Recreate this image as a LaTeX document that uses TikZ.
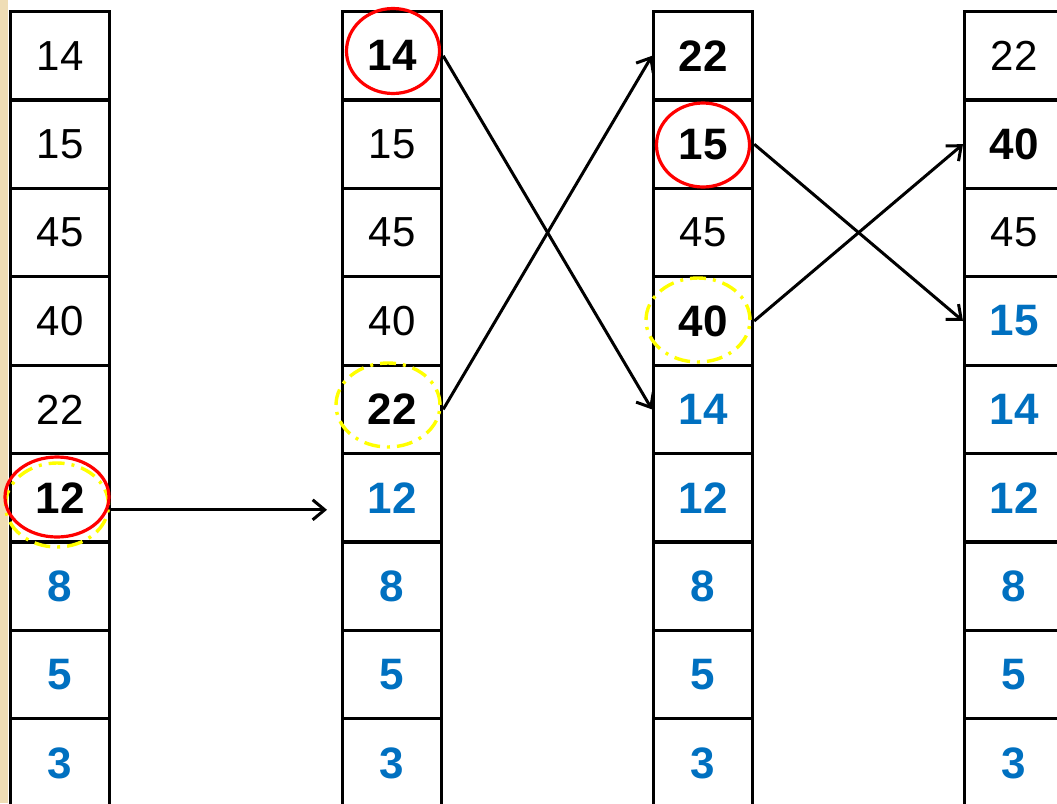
\documentclass[tikz,border=0pt]{standalone}
\usepackage{fontspec}
\setmainfont{Liberation Sans}
\usetikzlibrary{arrows.meta,shapes.geometric}
\definecolor{numblue}{HTML}{0070C0}
\definecolor{beigebg}{HTML}{EFDDB5}
\definecolor{yel}{HTML}{FFFF00}
\begin{document}
\begin{tikzpicture}[x=1pt,y=-1pt,
  cell/.style={draw=black, line width=3.2pt, minimum width=99pt, minimum height=88.4pt,
    inner sep=0pt, anchor=north west, font=\fontsize{42}{42}\selectfont},
  plainnum/.style={text=black},
  boldnum/.style={text=black, font=\fontsize{44}{44}\selectfont\bfseries},
  bluenum/.style={text=numblue, font=\fontsize{44}{44}\selectfont\bfseries},
  redring/.style={draw=red, line width=3.2pt, ellipse, inner sep=0pt},
  yelring/.style={draw=yel, line width=3.4pt, ellipse, inner sep=0pt,
    dash pattern=on 16pt off 7pt on 3pt off 7pt},
  arr/.style={draw=black, line width=3pt, -{Straight Barb[length=12pt,width=20pt,line width=3pt]}}]
\useasboundingbox (0,0) rectangle (1057,803);
\clip (0,0) rectangle (1057,803);
\fill[white] (0,0) rectangle (1057,803);
\fill[beigebg] (0,0) rectangle (8,803);
% column 1
\node[cell,plainnum] (a1) at (9,10) {14};
\node[cell,plainnum] (a2) at (9,98.4) {15};
\node[cell,plainnum] (a3) at (9,186.8) {45};
\node[cell,plainnum] (a4) at (9,275.2) {40};
\node[cell,plainnum] (a5) at (9,363.6) {22};
\node[cell,boldnum] (a6) at (9,452) {12};
\node[cell,bluenum] (a7) at (9,540.4) {8};
\node[cell,bluenum] (a8) at (9,628.8) {5};
\node[cell,bluenum] (a9) at (9,717.2) {3};
% column 2
\node[cell,boldnum] (b1) at (341,10) {14};
\node[cell,plainnum] (b2) at (341,98.4) {15};
\node[cell,plainnum] (b3) at (341,186.8) {45};
\node[cell,plainnum] (b4) at (341,275.2) {40};
\node[cell,boldnum] (b5) at (341,363.6) {22};
\node[cell,bluenum] (b6) at (341,452) {12};
\node[cell,bluenum] (b7) at (341,540.4) {8};
\node[cell,bluenum] (b8) at (341,628.8) {5};
\node[cell,bluenum] (b9) at (341,717.2) {3};
% column 3
\node[cell,boldnum] (c1) at (652,10) {22};
\node[cell,boldnum] (c2) at (652,98.4) {15};
\node[cell,plainnum] (c3) at (652,186.8) {45};
\node[cell,boldnum] (c4) at (652,275.2) {40};
\node[cell,bluenum] (c5) at (652,363.6) {14};
\node[cell,bluenum] (c6) at (652,452) {12};
\node[cell,bluenum] (c7) at (652,540.4) {8};
\node[cell,bluenum] (c8) at (652,628.8) {5};
\node[cell,bluenum] (c9) at (652,717.2) {3};
% column 4
\node[cell,plainnum] (d1) at (963,10) {22};
\node[cell,boldnum] (d2) at (963,98.4) {40};
\node[cell,plainnum] (d3) at (963,186.8) {45};
\node[cell,bluenum] (d4) at (963,275.2) {15};
\node[cell,bluenum] (d5) at (963,363.6) {14};
\node[cell,bluenum] (d6) at (963,452) {12};
\node[cell,bluenum] (d7) at (963,540.4) {8};
\node[cell,bluenum] (d8) at (963,628.8) {5};
\node[cell,bluenum] (d9) at (963,717.2) {3};
% rings
\node[yelring, minimum width=103pt, minimum height=84pt] (y1) at (57,505) {};
\node[redring, minimum width=104pt, minimum height=80pt] (r1) at (57,497) {};
\node[redring, minimum width=93pt, minimum height=85pt] (r2) at (393,51) {};
\node[yelring, minimum width=104pt, minimum height=84pt] (y2) at (388,405) {};
\node[redring, minimum width=93pt, minimum height=84pt] (r3) at (703,145) {};
\node[yelring, minimum width=104pt, minimum height=84pt] (y3) at (698,320) {};
% arrows
\draw[arr] ([yshift=-12pt]a6.east) -- ([xshift=-14pt,yshift=-12pt]b6.west);
\draw[arr] (b5.east) -- (c1.west);
\draw[arr] (b1.east) -- (c5.west);
\draw[arr] (c2.east) -- (d4.west);
\draw[arr] (c4.east) -- (d2.west);
\end{tikzpicture}
\end{document}
